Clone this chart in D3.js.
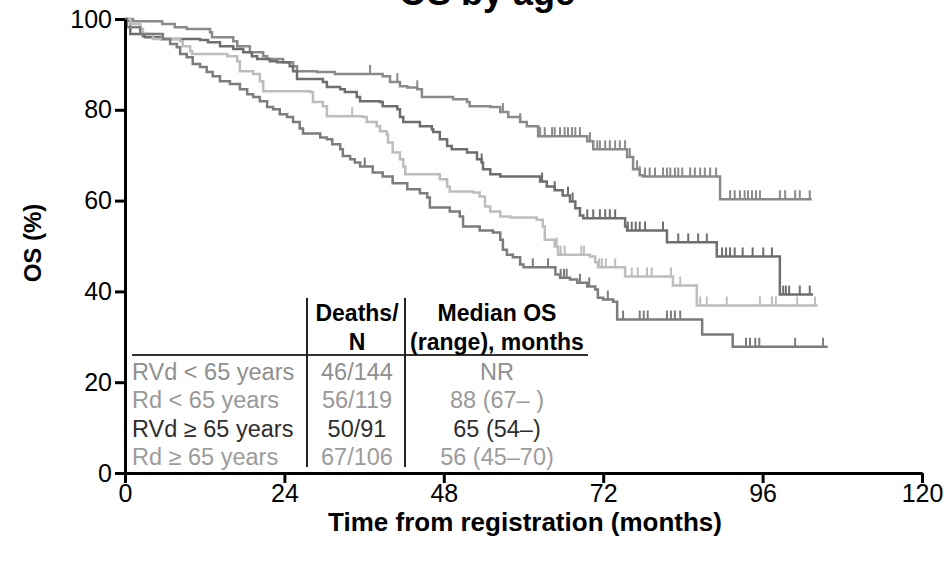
<!DOCTYPE html>
<html>
<head>
<meta charset="utf-8">
<script src="https://cdn.jsdelivr.net/npm/d3@7"></script>
<style>
  body { margin: 0; background: #fff; }
  svg { display: block; font-family: "Liberation Sans", Arial, sans-serif; }
</style>
</head>
<body>
<svg width="947" height="564"></svg>
<script>
// RVd < 65 years (top curve)
var rvdYoungTimes = [1.2, 5.6, 7.5, 9.3, 12.8, 13.1, 16.3, 16.9, 18.8, 20.8, 21.4, 23.8, 25.3, 25.9, 28.9, 31.6, 38.8, 39.9, 41.4, 42.5, 44.0, 44.7, 49.4, 51.5, 51.9, 55.0, 56.5, 57.7, 59.5, 60.5, 62.2, 69.6, 70.5, 75.6, 76.5, 77.5, 78.0, 89.6]
var rvdYoungSurv = [99.5, 98.9, 98.2, 97.8, 97.1, 96.0, 95.1, 94.0, 92.7, 91.8, 91.2, 90.5, 89.6, 88.5, 88.3, 87.9, 87.4, 86.1, 85.2, 84.9, 84.5, 82.8, 82.3, 81.7, 80.8, 80.6, 79.5, 78.4, 77.3, 76.4, 74.2, 73.1, 71.3, 69.6, 66.9, 65.6, 65.3, 60.3]
var rvdYoungCensor = [36.9, 41.0, 44.0, 56.9, 59.5, 62.5, 63.2, 64.3, 64.7, 65.5, 66.2, 66.7, 67.3, 67.8, 68.5, 70.0, 71.1, 71.5, 72.3, 73.0, 73.8, 74.5, 75.3, 76.0, 77.1, 77.5, 78.3, 79.0, 79.8, 81.0, 81.6, 82.1, 82.8, 83.3, 83.9, 85.1, 85.8, 86.6, 87.3, 88.1, 89.0, 91.1, 91.8, 92.6, 93.3, 93.8, 94.4, 95.0, 95.6, 98.6, 99.4, 100.9, 101.6, 103.1]
var rvdYoungEnd = 103.4

// Rd < 65 years
var rdYoungTimes = [0.3, 0.8, 2.7, 3.0, 5.3, 11.3, 12.5, 14.3, 16.3, 17.8, 19.1, 19.9, 21.8, 22.9, 24.8, 25.3, 25.9, 29.8, 30.4, 32.4, 33.1, 34.9, 35.4, 38.4, 38.8, 41.0, 41.4, 41.9, 44.4, 46.2, 46.4, 47.4, 48.5, 49.2, 51.5, 53.0, 53.7, 53.9, 55.0, 56.5, 62.5, 63.5, 64.7, 65.9, 67.0, 67.8, 68.5, 69.0, 75.3, 75.6, 81.6, 89.1, 98.6]
var rdYoungSurv = [99.6, 96.7, 96.2, 96.0, 95.6, 95.4, 94.9, 94.0, 93.4, 92.7, 91.8, 91.2, 90.7, 90.5, 89.6, 88.5, 86.8, 86.1, 85.0, 84.5, 83.9, 82.8, 81.9, 81.7, 80.8, 80.1, 78.4, 77.3, 76.4, 75.7, 75.1, 73.5, 72.0, 71.3, 70.6, 69.1, 68.4, 66.9, 65.8, 65.3, 64.2, 63.1, 62.3, 61.1, 59.8, 58.3, 56.7, 56.1, 54.3, 53.4, 50.8, 47.7, 39.3]
var rdYoungCensor = [53.7, 62.8, 64.7, 66.7, 67.4, 69.6, 70.5, 71.5, 72.3, 73.0, 73.8, 75.7, 76.3, 76.9, 77.5, 78.3, 81.0, 83.3, 84.8, 86.3, 87.6, 89.9, 90.5, 91.1, 91.8, 93.0, 94.5, 96.1, 97.4, 99.1, 99.5, 100.0, 101.6, 103.1]
var rdYoungEnd = 103.6

// RVd >= 65 years (light curve)
var rvdOldTimes = [0.8, 2.3, 2.7, 4.2, 8.3, 8.7, 9.8, 10.1, 15.4, 16.9, 17.3, 19.3, 20.3, 20.8, 27.9, 28.3, 29.8, 30.4, 35.8, 36.4, 37.9, 38.4, 39.4, 39.6, 40.3, 41.4, 41.9, 42.2, 47.4, 48.5, 48.9, 52.4, 53.4, 54.2, 55.0, 56.5, 58.0, 62.0, 62.9, 63.2, 64.7, 65.2, 70.0, 70.8, 71.2, 75.3, 82.5, 86.1]
var rvdOldSurv = [98.9, 97.8, 96.7, 95.6, 95.1, 94.0, 92.9, 92.3, 91.8, 90.7, 88.5, 87.9, 86.3, 84.1, 83.9, 81.7, 80.8, 78.6, 78.4, 77.3, 76.4, 75.3, 74.6, 72.8, 70.6, 69.1, 67.5, 65.8, 64.7, 63.1, 62.0, 61.8, 60.9, 58.7, 57.6, 56.5, 56.3, 55.8, 54.3, 51.4, 49.9, 48.1, 47.7, 46.4, 45.3, 43.3, 41.3, 36.9]
var rvdOldCensor = [34.2, 65.0, 65.6, 66.2, 68.7, 69.1, 71.4, 71.8, 72.4, 73.8, 76.3, 77.2, 78.6, 79.3, 82.2, 83.6, 86.6, 87.6, 90.6, 95.6, 97.4, 98.0, 101.2, 103.9]
var rvdOldEnd = 104.3

// Rd >= 65 years (bottom curve)
var rdOldTimes = [0.3, 2.3, 5.7, 6.8, 7.8, 8.3, 9.3, 10.2, 11.3, 12.3, 13.2, 14.3, 15.8, 17.3, 18.4, 19.3, 20.3, 21.4, 22.3, 23.3, 24.4, 25.3, 26.3, 26.8, 29.4, 30.4, 31.2, 32.4, 32.8, 33.9, 34.6, 35.4, 37.3, 38.8, 40.3, 42.5, 44.4, 45.5, 45.9, 48.9, 50.4, 50.9, 53.4, 55.4, 56.5, 56.9, 57.5, 58.4, 59.5, 60.0, 64.8, 65.5, 67.0, 68.1, 69.6, 70.8, 71.2, 72.0, 73.5, 74.1, 86.9, 91.5]
var rdOldSurv = [98.2, 96.7, 95.6, 94.5, 93.8, 92.3, 91.6, 90.1, 89.4, 88.3, 87.4, 86.3, 85.7, 84.5, 83.4, 82.8, 81.9, 80.6, 80.1, 79.0, 78.4, 77.3, 75.9, 74.8, 73.9, 73.5, 72.4, 71.3, 69.8, 69.1, 68.4, 67.5, 66.2, 65.3, 63.8, 62.5, 61.6, 60.7, 58.5, 57.6, 56.5, 54.3, 53.4, 53.0, 51.4, 49.2, 48.1, 47.5, 45.9, 45.3, 43.7, 43.0, 42.6, 41.9, 41.1, 40.4, 38.6, 38.2, 37.7, 33.8, 30.5, 27.8]
var rdOldCensor = [36.1, 61.4, 63.7, 65.6, 66.1, 66.5, 68.5, 69.9, 72.7, 75.0, 77.5, 78.1, 78.7, 81.6, 82.2, 82.8, 83.6, 93.5, 94.1, 94.9, 95.5, 100.9, 105.1]
var rdOldEnd = 105.8

// table
var groups = ["RVd < 65 years", "Rd < 65 years", "RVd \u2265 65 years", "Rd \u2265 65 years"]
var deathsN = ["46/144", "56/119", "50/91", "67/106"]
var medianOS = ["NR", "88 (67\u2013 )", "65 (54\u2013)", "56 (45\u201370)"]

var xTicks = [0, 24, 48, 72, 96, 120]
var yTicks = [0, 20, 40, 60, 80, 100]

var series = [
  {times: rvdYoungTimes, surv: rvdYoungSurv, censor: rvdYoungCensor, end: rvdYoungEnd, color: "#8a8a8a"},
  {times: rdYoungTimes, surv: rdYoungSurv, censor: rdYoungCensor, end: rdYoungEnd, color: "#6e6e6e"},
  {times: rvdOldTimes, surv: rvdOldSurv, censor: rvdOldCensor, end: rvdOldEnd, color: "#bdbdbd"},
  {times: rdOldTimes, surv: rdOldSurv, censor: rdOldCensor, end: rdOldEnd, color: "#7c7c7c"}
]
var rowColors = ["#8f8f8f", "#999999", "#2e2e2e", "#9c9c9c"]

var svg = d3.select("svg")
var x = d3.scaleLinear().domain([0, 120]).range([125, 922])
var y = d3.scaleLinear().domain([0, 100]).range([473, 19])

function survAt(s, t) {
  var v = 100
  for (var i = 0; i < s.times.length; i++) if (s.times[i] <= t) v = s.surv[i]
  return v
}

var line = d3.line().x(function(d){return x(d[0])}).y(function(d){return y(d[1])}).curve(d3.curveStepAfter)

var curves = svg.append("g")
series.forEach(function(s) {
  var pts = [[0, 100]].concat(s.times.map(function(t, i){return [t, s.surv[i]]}))
  pts.push([s.end, s.surv[s.surv.length - 1]])
  curves.append("path").attr("d", line(pts))
    .attr("fill", "none").attr("stroke", s.color).attr("stroke-width", 2.5)
  curves.selectAll(null).data(s.censor).enter().append("line")
    .attr("x1", function(d){return x(d)}).attr("x2", function(d){return x(d)})
    .attr("y1", function(d){return y(survAt(s, d))})
    .attr("y2", function(d){return y(survAt(s, d)) - 9})
    .attr("stroke", s.color).attr("stroke-width", 2)
})

// axes
var yAxis = svg.append("g").attr("transform", "translate(125,0)")
  .call(d3.axisLeft(y).tickValues(yTicks).tickSize(10).tickSizeOuter(0).tickPadding(3))
var xAxis = svg.append("g").attr("transform", "translate(0,473)")
  .call(d3.axisBottom(x).tickValues(xTicks).tickSize(10).tickSizeOuter(0).tickPadding(1))
svg.selectAll(".domain, .tick line").attr("stroke", "#000").attr("stroke-width", 3)
yAxis.selectAll("text").attr("font-size", 25).attr("fill", "#000")
  .style("font-family", "'Liberation Sans', Arial, sans-serif")
xAxis.selectAll("text").attr("font-size", 25).attr("fill", "#000")
  .style("font-family", "'Liberation Sans Narrow', 'Liberation Sans', Arial, sans-serif")

// titles
svg.append("text").attr("x", 487).attr("y", 5).attr("text-anchor", "middle")
  .attr("font-size", 36).attr("font-weight", "bold").text("OS by age")
svg.append("text").attr("x", 525).attr("y", 531).attr("text-anchor", "middle")
  .attr("font-size", 26).attr("font-weight", "bold")
  .style("font-family", "'Liberation Sans Narrow', 'Liberation Sans', Arial, sans-serif")
  .text("Time from registration (months)")
svg.append("text").attr("transform", "translate(41,243) rotate(-90)").attr("text-anchor", "middle")
  .attr("font-size", 24).attr("font-weight", "bold").text("OS (%)")

// table
var tbl = svg.append("g")
tbl.append("line").attr("x1", 132).attr("x2", 588).attr("y1", 355).attr("y2", 355)
  .attr("stroke", "#333").attr("stroke-width", 2)
;[307, 405].forEach(function(vx) {
  tbl.append("line").attr("x1", vx).attr("x2", vx).attr("y1", 298).attr("y2", 467)
    .attr("stroke", "#222").attr("stroke-width", 2)
})
var hdr = [["Deaths/", 357, 321], ["N", 357, 350], ["Median OS", 497, 321], ["(range), months", 497, 350]]
hdr.forEach(function(h) {
  tbl.append("text").attr("x", h[1]).attr("y", h[2]).attr("text-anchor", "middle")
    .attr("font-size", 23).attr("font-weight", "bold").attr("fill", "#000").text(h[0])
})
var rowY = d3.scaleLinear().domain([0, 3]).range([380, 465])
groups.forEach(function(g, i) {
  tbl.append("text").attr("x", 132).attr("y", rowY(i)).attr("font-size", 23.5).attr("fill", rowColors[i]).text(g)
  tbl.append("text").attr("x", 357).attr("y", rowY(i)).attr("text-anchor", "middle").attr("font-size", 23.5).attr("fill", rowColors[i]).text(deathsN[i])
  tbl.append("text").attr("x", 497).attr("y", rowY(i)).attr("text-anchor", "middle").attr("font-size", 23.5).attr("fill", rowColors[i]).text(medianOS[i])
})
</script>
</body>
</html>
